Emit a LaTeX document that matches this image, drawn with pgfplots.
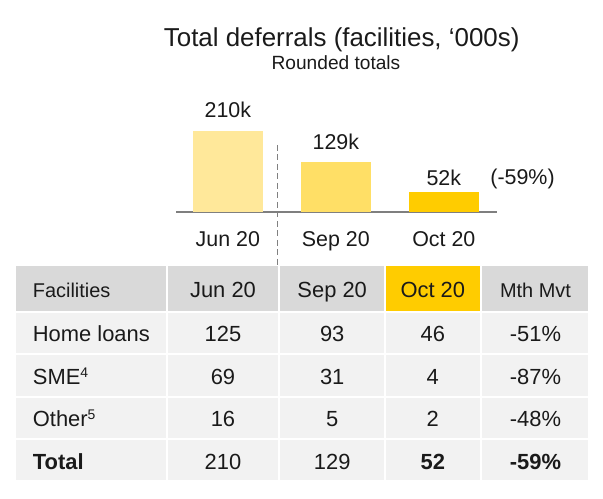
\documentclass[border=0pt]{standalone}
\usepackage{fontspec}
\setmainfont{Liberation Sans}
\usepackage{pgfplots}
\pgfplotsset{compat=1.18}
\definecolor{barA}{HTML}{FFE89A}
\definecolor{barB}{HTML}{FFDF66}
\definecolor{barC}{HTML}{FFCC00}
\definecolor{hdr}{HTML}{D9D9D9}
\definecolor{body}{HTML}{F2F2F2}
\definecolor{axisgray}{HTML}{7F7F7F}
\definecolor{dashgray}{HTML}{808080}
\definecolor{txt}{HTML}{1A1A1A}
\newcommand{\fA}{\fontsize{21.5}{25}\selectfont}
\newcommand{\fH}{\fontsize{20}{24}\selectfont}
\newcommand{\fM}{\fontsize{22}{26}\selectfont}
\newcommand{\supnum}[1]{\raisebox{7bp}{\fontsize{14}{16}\selectfont #1}}
\begin{document}
\begin{tikzpicture}[x=1bp,y=1bp]
\useasboundingbox (0,0) rectangle (603,499);
% titles
\node[anchor=base,text=txt,inner sep=0pt,font=\fontsize{26}{30}\selectfont] at (341.7,499-46.7) {Total deferrals (facilities, ‘000s)};
\node[anchor=base,text=txt,inner sep=0pt,font=\fontsize{19.2}{23}\selectfont] at (336,499-69.3) {Rounded totals};
% table background
\fill[hdr] (16,499-265.7) rectangle (588.3,499-311.7);
\fill[barC] (385,499-265.7) rectangle (480.7,499-311.7);
\fill[body] (16,499-311.7) rectangle (588.3,499-480);
\foreach \yy in {312,354.5,397,439.3}{\draw[white,line width=2bp] (16,499-\yy) -- (588.3,499-\yy);}
\foreach \xx in {166.7,279.3,385,480.7}{\draw[white,line width=2bp] (\xx,499-265.7) -- (\xx,499-480);}
% dashed separator
\draw[dashgray,line width=1.4bp,dash pattern=on 6bp off 3.5bp] (277.7,499-145) -- (277.7,499-265.7);
% chart
\begin{axis}[
  at={(176bp,287bp)}, anchor=south west,
  scale only axis, width=321.3bp, height=116bp,
  xmin=-0.48, xmax=2.495, ymin=0, ymax=300,
  axis y line=none, axis x line*=bottom,
  x axis line style={draw=axisgray,line width=1.6bp,-},
  xtick={0,1,2}, xticklabels={Jun 20,Sep 20,Oct 20},
  major tick length=0pt,
  xticklabel style={font=\fA,text=txt,anchor=base,inner sep=0pt,yshift=-34.7bp},
  clip=false,
  /pgf/number format/assume math mode=true,
  nodes near coords={\pgfmathprintnumber{\pgfplotspointmeta}k},
]
\addplot[ybar,bar width=70.3bp,bar shift=0pt,fill=barA,draw=none,
  every node near coord/.append style={font=\fA,text=txt,anchor=base,inner sep=0pt,yshift=13.4bp}]
  coordinates {(0,210)};
\addplot[ybar,bar width=70.3bp,bar shift=0pt,fill=barB,draw=none,
  every node near coord/.append style={font=\fA,text=txt,anchor=base,inner sep=0pt,yshift=12.7bp}]
  coordinates {(1,129)};
\addplot[ybar,bar width=70.3bp,bar shift=0pt,fill=barC,draw=none,
  every node near coord/.append style={font=\fA,text=txt,anchor=base,inner sep=0pt,yshift=6.7bp}]
  coordinates {(2,52)};
\end{axis}
\node[anchor=base,text=txt,inner sep=0pt,font=\fA] at (522.5,499-185) {(-59\%)};
% table text
\begin{scope}[every node/.style={text=txt,inner sep=0pt,anchor=base}]
\node[anchor=base west,font=\fH] at (32.7,499-297.5) {Facilities};
\node[font=\fM] at (223,499-297.5) {Jun 20};
\node[font=\fM] at (332.2,499-297.5) {Sep 20};
\node[font=\fM] at (432.8,499-297.5) {Oct 20};
\node[font=\fH] at (535.5,499-297.5) {Mth Mvt};
%
\node[anchor=base west,font=\fM] at (32.7,499-341.7) {Home loans};
\node[font=\fM] at (223,499-341.7) {125};
\node[font=\fM] at (332.2,499-341.7) {93};
\node[font=\fM] at (432.8,499-341.7) {46};
\node[font=\fM] at (535.5,499-341.7) {-51\%};
%
\node[anchor=base west,font=\fM] at (32.7,499-384.5) {SME\supnum{4}};
\node[font=\fM] at (223,499-384.5) {69};
\node[font=\fM] at (332.2,499-384.5) {31};
\node[font=\fM] at (432.8,499-384.5) {4};
\node[font=\fM] at (535.5,499-384.5) {-87\%};
%
\node[anchor=base west,font=\fM] at (32.7,499-426.9) {Other\supnum{5}};
\node[font=\fM] at (223,499-426.9) {16};
\node[font=\fM] at (332.2,499-426.9) {5};
\node[font=\fM] at (432.8,499-426.9) {2};
\node[font=\fM] at (535.5,499-426.9) {-48\%};
%
\node[anchor=base west,font=\fM\bfseries] at (32.7,499-469.3) {Total};
\node[font=\fM] at (223,499-469.3) {210};
\node[font=\fM] at (332.2,499-469.3) {129};
\node[font=\fM\bfseries] at (432.8,499-469.3) {52};
\node[font=\fM\bfseries] at (535.5,499-469.3) {-59\%};
\end{scope}
\end{tikzpicture}
\end{document}
